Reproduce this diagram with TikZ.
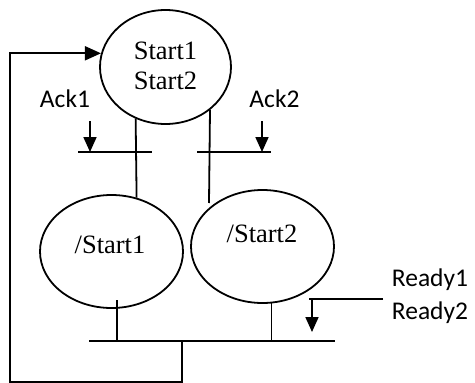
\documentclass[tikz,border=0pt]{standalone}
\usepackage{fontspec}
\setmainfont{Liberation Serif}
\newfontfamily\calib{Carlito}
\usetikzlibrary{shapes.geometric,arrows.meta}
\begin{document}
\begin{tikzpicture}[x=1pt,y=-1pt,line width=1.8pt,every node/.style={inner sep=0pt},
st/.style={ellipse,draw,minimum width=143pt,minimum height=113pt},
tm/.style={font=\fontsize{26.5}{30}\selectfont,align=center},
sig/.style={font=\calib\fontsize{25.5}{33}\selectfont,align=center},
arr/.style={-{Triangle[length=15pt,width=13pt]}}]
\useasboundingbox (0,0) rectangle (475,383);
\node[st,minimum width=131pt,minimum height=114pt] (top) at (165.5,67) {};\node[tm] (topt) at (165.5,66) {Start1\\Start2};
\node[st] (s1) at (111.5,251.5) {};\node[tm] (s1t) at (110,245) {/Start1};
\node[st] (s2) at (262.5,246.5) {};\node[tm] (s2t) at (262,234) {/Start2};
\node[sig] (k1) at (65,99) {Ack1};\node[sig] (k2) at (274.5,99) {Ack2};
\node[sig] (rd) at (430,296) {Ready1\\Ready2};
% bars
\coordinate (b1l) at (78,152);\coordinate (b1r) at (152,152);
\coordinate (b2l) at (197,152);\coordinate (b2r) at (271,152);
\coordinate (bl) at (89,341);\coordinate (br) at (335,341);
\draw (b1l)--(b1r);\draw (b2l)--(b2r);\draw (bl)--(br);
% transitions
\coordinate (e2) at (209,203);\coordinate (p1) at (117,300);
\draw (top.240)--(s1.65);\draw (top.-44.4)--(e2);
\draw (p1)--(p1 |- bl);\draw (s2.-81.4)--(s2.-81.4 |- bl);
% inputs
\coordinate (a1) at (90,121);\coordinate (a2) at (262,121);
\draw[arr] (a1)--(a1 |- b1l);\draw[arr] (a2)--(a2 |- b2l);
\coordinate (r0) at (383,299);\coordinate (r1) at (312,299);\coordinate (r2) at (312,332);
\draw (r0)--(309,299);\draw[arr] (r1)--(r2);
% loop back
\coordinate (m) at (182,341);\coordinate (lc) at (10,382);
\draw[arr,-{Triangle[length=16pt,width=14pt]}] (m) |- (lc) |- (top.168);
\end{tikzpicture}
\end{document}
